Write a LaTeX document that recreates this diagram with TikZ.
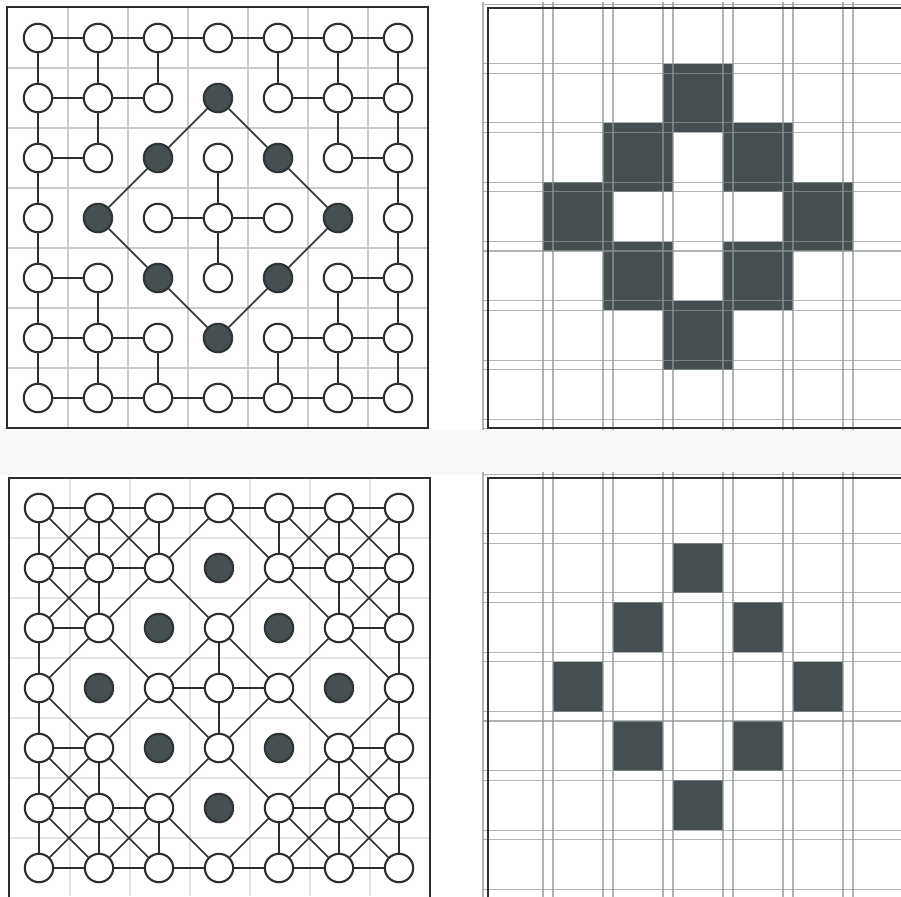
\documentclass[tikz,border=0pt]{standalone}
\definecolor{pixdark}{RGB}{69,78,80}
\definecolor{pixrim}{RGB}{45,50,52}
\definecolor{pixline}{RGB}{45,45,45}
\definecolor{pixgrid}{RGB}{200,204,204}
\definecolor{pixfaint}{RGB}{222,228,232}
\definecolor{pixrule}{RGB}{142,148,148}
\pgfmathdeclarefunction{isdark}{2}{\pgfmathparse{abs(#1-3)+abs(#2-3)==2}}
\begin{document}
\begin{tikzpicture}[x=0.025cm,y=0.025cm]
\tikzstyle{every node}+=[inner sep=0pt]
\tikzstyle{pixoff}=[circle,minimum size=0.71cm,draw=pixline,line width=1.5pt,fill=white]
\tikzstyle{pixon}=[pixoff,draw=pixrim,fill=pixdark]
\tikzstyle{link}=[pixline,line width=1.6pt]
\tikzstyle{dlink}=[pixline,line width=1.2pt]
\tikzstyle{frame}=[pixline,line width=1.5pt]
\tikzstyle{rule}=[pixrule,opacity=.7,line width=.8pt]
\useasboundingbox (0,0) rectangle (901,-896);
\clip (0,0) rectangle (901,-896);
\fill [black!2.5] (0,-430) rectangle (901,-475);
% left: pixel grids with neighbour links
\foreach \k in {1,...,6} {
  \draw [pixgrid,line width=.8pt] ({8+60*\k},-8) -- ({8+60*\k},-428);
  \draw [pixgrid,line width=.8pt] (8,{-8-60*\k}) -- (428,{-8-60*\k});
  \draw [pixfaint,line width=.8pt] ({10+60*\k},-478) -- ({10+60*\k},-896);
  \draw [pixfaint,line width=.8pt] (10,{-478-60*\k}) -- (430,{-478-60*\k});
}
\draw [frame] (7,-7) rectangle (428,-428);
\draw [frame] (9,-478) rectangle (430,-900);
\foreach \i in {0,...,6}
  \foreach \j in {0,...,6} {
    \pgfmathtruncatemacro\on{isdark(\i,\j)}
    \ifnum\on=1 \tikzset{pixnow/.style=pixon}\else\tikzset{pixnow/.style=pixoff}\fi
    \node [pixnow] (a-\i-\j) at ({38+60*\i},{-38-60*\j}) {};
    \node [pixnow] (b-\i-\j) at ({39+60*\i},{-508-60*\j}) {};
  }
\foreach \i in {0,...,6}
  \foreach \j in {0,...,6} {
    \pgfmathtruncatemacro\ii{\i+1}
    \pgfmathtruncatemacro\jj{\j+1}
    \pgfmathtruncatemacro\io{\i-1}
    \pgfmathtruncatemacro\edgeh{(\i<6) && (isdark(\i,\j)==0) && (isdark(\i+1,\j)==0)}
    \pgfmathtruncatemacro\edgev{(\j<6) && (isdark(\i,\j)==0) && (isdark(\i,\j+1)==0)}
    \pgfmathtruncatemacro\edgedr{(\i<6) && (\j<6) && (isdark(\i,\j)==0) && (isdark(\i+1,\j+1)==0)}
    \pgfmathtruncatemacro\edgedl{(\i>0) && (\j<6) && (isdark(\i,\j)==0) && (isdark(\i-1,\j+1)==0)}
    \ifnum\edgeh=1 \draw [link] (a-\i-\j) -- (a-\ii-\j); \draw [link] (b-\i-\j) -- (b-\ii-\j); \fi
    \ifnum\edgev=1 \draw [link] (a-\i-\j) -- (a-\i-\jj); \draw [link] (b-\i-\j) -- (b-\i-\jj); \fi
    \ifnum\edgedr=1 \draw [dlink] (b-\i-\j) -- (b-\ii-\jj); \fi
    \ifnum\edgedl=1 \draw [dlink] (b-\i-\j) -- (b-\io-\jj); \fi
  }
\foreach \p/\q in {3-1/4-2,4-2/5-3,5-3/4-4,4-4/3-5,3-5/2-4,2-4/1-3,1-3/2-2,2-2/3-1}
  \draw [dlink] (a-\p) -- (a-\q);
% right: dilated and eroded pixels on two shifted grids
\foreach \i/\j in {3/1,2/2,4/2,1/3,5/3,2/4,4/4,3/5} {
  \fill [pixdark] ({483+60*\i},{-4.3-59.3*\j}) rectangle ({553+60*\i},{-73.1-59.3*\j});
  \fill [pixdark] ({493+60*\i},{-483.8-59.3*\j}) rectangle ({543+60*\i},{-533.6-59.3*\j});
}
\foreach \oy in {0,470} {
  \foreach \k in {0,...,7} {
    \draw [rule] ({483+60*\k},{-\oy-2}) -- ({483+60*\k},{-\oy-430});
    \draw [rule] (483,{-\oy-4.3-59.3*\k}) -- (901,{-\oy-4.3-59.3*\k});
  }
  \foreach \k in {1,...,7} {
    \draw [rule] ({493+60*\k},{-\oy-2}) -- ({493+60*\k},{-\oy-430});
    \draw [rule] (483,{-\oy-13.8-59.3*\k}) -- (901,{-\oy-13.8-59.3*\k});
  }
  \draw [frame] (901,{-\oy-8}) -- (488,{-\oy-8}) -- (488,{-\oy-428}) -- (901,{-\oy-428});
}
\end{tikzpicture}
\end{document}
